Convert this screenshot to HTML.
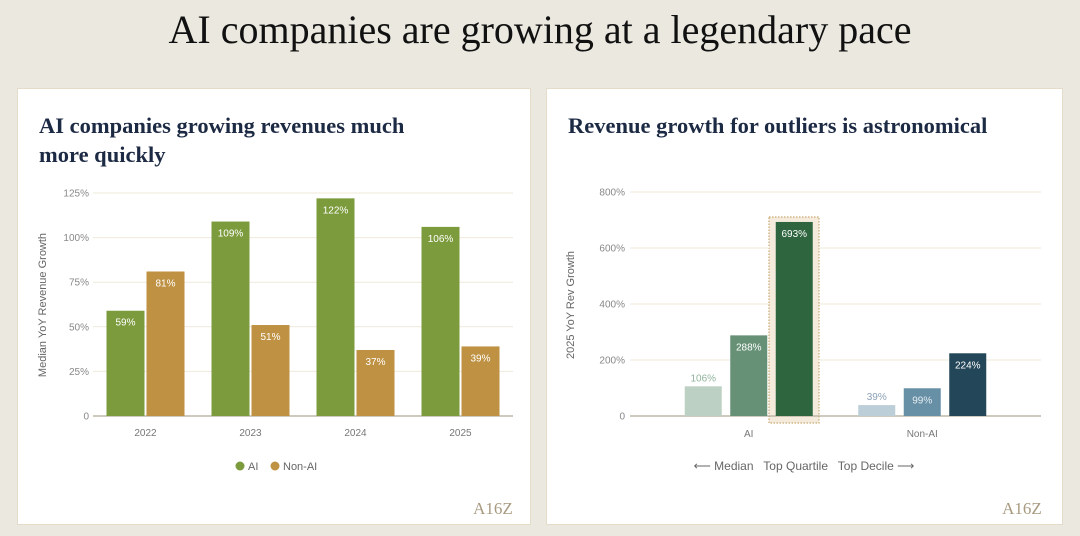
<!DOCTYPE html>
<html><head><meta charset="utf-8">
<style>
body{margin:0;width:1080px;height:536px;background:#ebe8e0;overflow:hidden;font-family:"Liberation Sans",sans-serif;position:relative}
.main-title{position:absolute;left:0;width:1080px;top:6px;text-align:center;font-family:"Liberation Serif",serif;font-size:40px;color:#111;}
.card{position:absolute;top:88px;height:437px;background:#fff;border:1px solid #e4dcc8;box-sizing:border-box}
.ptitle{position:absolute;font-family:"Liberation Serif",serif;font-weight:bold;font-size:22.5px;line-height:29px;color:#1d2a44}
svg{position:absolute;left:0;top:0}
</style></head><body>
<div class="main-title">AI companies are growing at a legendary pace</div>
<div class="card" style="left:17px;width:514px"></div>
<div class="card" style="left:546px;width:517px"></div>
<div class="ptitle" style="left:39px;top:111px">AI companies growing revenues much<br>more quickly</div>
<div class="ptitle" style="left:568px;top:111px">Revenue growth for outliers is astronomical</div>
<svg id="chart" width="1080" height="536"></svg>
<script>
const years=["2022","2023","2024","2025"];
const aiVals=[59,109,122,106];
const nonAiVals=[81,51,37,39];
const leftTicks=[0,25,50,75,100,125];
const groups=["AI","Non-AI"];
const aiTiers=[106,288,693];
const nonAiTiers=[39,99,224];
const rightTicks=[0,200,400,600,800];

const NS="http://www.w3.org/2000/svg";
const svg=document.getElementById('chart');
function mk(t,a,txt){const e=document.createElementNS(NS,t);for(const k in a)e.setAttribute(k,a[k]);if(txt!=null)e.textContent=txt;svg.appendChild(e);return e;}

// Left chart
const L={x0:93,x1:513,y0:416,y1:193,max:125};
const ly=v=>L.y0-(v/L.max)*(L.y0-L.y1);
const lbw=(L.x1-L.x0)/years.length;
leftTicks.forEach(t=>{
  const g=mk('line',{x1:L.x0,x2:L.x1,y1:ly(t),y2:ly(t),stroke:t===0?'#b5ab98':'#efe9da','stroke-width':t===0?1.2:1});
  
  const l=mk('text',{x:L.x0-4,y:ly(t)+3.5,'text-anchor':'end','font-size':10,fill:'#888'},t===0?'0':t+'%');
  
});
years.forEach((y,i)=>{
  const c=L.x0+(i+0.5)*lbw;
  [[aiVals[i],'#7c9b3d',c-39],[nonAiVals[i],'#bf9243',c+1]].forEach(([v,col,x],j)=>{
    const r=mk('rect',{x:x,y:ly(v),width:38,height:L.y0-ly(v),fill:col});
    
    const t=mk('text',{x:x+19,y:ly(v)+15,'text-anchor':'middle','font-size':10,fill:'#fff'},v+'%');
    
  });
  const xl=mk('text',{x:c,y:436,'text-anchor':'middle','font-size':10,fill:'#777'},y);
  
});
const lyt=mk('text',{x:46,y:305,'text-anchor':'middle','font-size':11,fill:'#666',transform:'rotate(-90 46 305)'},'Median YoY Revenue Growth');

[[240,'#7c9b3d','AI'],[275,'#bf9243','Non-AI']].forEach(([x,c,n])=>{
  const d=mk('circle',{cx:x,cy:466,r:4.5,fill:c});
  const t=mk('text',{x:x+8,y:470,'font-size':11,fill:'#666'},n);
});

// Right chart
const R={x0:630,x1:1041,y0:416,y1:192,max:800,b0:662,b1:1009};
const ry=v=>R.y0-(v/R.max)*(R.y0-R.y1);
const rbw=(R.b1-R.b0)/groups.length;
const hb=mk('rect',{x:769,y:217,width:50,height:206,fill:'#f4ebdc',stroke:'#c9a870','stroke-width':1.2,'stroke-dasharray':'1.5,1.5'});

rightTicks.forEach(t=>{
  const g=mk('line',{x1:R.x0,x2:R.x1,y1:ry(t),y2:ry(t),stroke:t===0?'#b5ab98':'#efe9da','stroke-width':t===0?1.2:1});
  
  const l=mk('text',{x:R.x0-5,y:ry(t)+3.5,'text-anchor':'end','font-size':10,fill:'#888'},t===0?'0':t+'%');
  
});
const cols=[['#bdd0c4','#679176','#2e653e'],['#bccfd8','#678fa5','#234658']];
const labCols=[['#8fb39b','#fff','#fff'],['#8a9fb5','#e6eef3','#fff']];
const tierNames=['median','top-quartile','top-decile'];
[aiTiers,nonAiTiers].forEach((vals,gi)=>{
  const c=R.b0+(gi+0.5)*rbw;
  vals.forEach((v,k)=>{
    const x=c-18.5+(k-1)*45.5;
    const r=mk('rect',{x:x,y:ry(v),width:37,height:R.y0-ry(v),fill:cols[gi][k]});
    
    const ty=k===0?ry(v)-5:ry(v)+15;
    const t=mk('text',{x:x+18.5,y:ty,'text-anchor':'middle','font-size':10,fill:labCols[gi][k]},v+'%');
    
  });
  const xl=mk('text',{x:c,y:437,'text-anchor':'middle','font-size':10,fill:'#777'},groups[gi]);
  
});
const ryt=mk('text',{x:574,y:305,'text-anchor':'middle','font-size':11,fill:'#666',transform:'rotate(-90 574 305)'},'2025 YoY Rev Growth');

const leg=mk('text',{x:804,y:470,'text-anchor':'middle','font-size':12,fill:'#666'},'\u27F5 Median   Top Quartile   Top Decile \u27F6');

leg.setAttribute('xml:space','preserve');leg.style.whiteSpace='pre';
[[493,'left-logo'],[1022,'right-logo']].forEach(([x,n])=>{
  const t=mk('text',{x:x,y:514,'text-anchor':'middle','font-size':17,fill:'#a89a80','font-family':'Liberation Serif, serif'},'A16Z');
  
});
</script>
</body></html>
